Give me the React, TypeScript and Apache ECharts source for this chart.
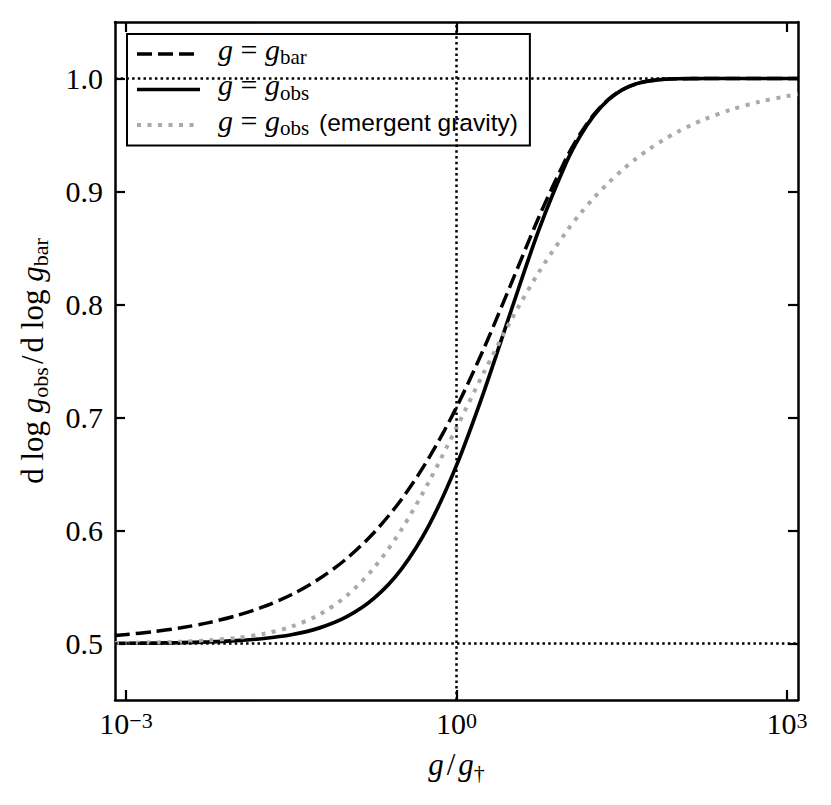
import React, { useEffect, useRef } from "react";
import * as echarts from "echarts";

// log10(g / g_dagger)
const logG = [
  -3.1, -3, -2.75, -2.5, -2.25, -2, -1.75, -1.5, -1.25, -1, -0.75, -0.5, -0.25, 0, 0.25, 0.5, 0.75, 1,
  1.125, 1.25, 1.375, 1.5, 1.625, 1.75, 1.875, 2, 2.125, 2.25, 2.5, 2.75, 3, 3.1,
];
// g = g_bar (dashed)
const slopeBar = [
  0.507, 0.5079, 0.5105, 0.5139, 0.5185, 0.5246, 0.5326, 0.5431, 0.557, 0.5749, 0.598, 0.6275, 0.6643, 0.709,
  0.7614, 0.8193, 0.8779, 0.9301, 0.9514, 0.9685, 0.9812, 0.9898, 0.9951, 0.9979, 0.9993, 0.9998, 0.9999, 1.0,
  1.0, 1.0, 1.0, 1.0,
];
// g = g_obs (solid)
const slopeObs = [
  0.5002, 0.5002, 0.5004, 0.5008, 0.5014, 0.5025, 0.5044, 0.5077, 0.5136, 0.5235, 0.5399, 0.5659, 0.6046,
  0.6576, 0.7232, 0.7958, 0.8667, 0.9263, 0.9495, 0.9677, 0.9809, 0.9897, 0.9951, 0.9979, 0.9993, 0.9998,
  0.9999, 1.0, 1.0, 1.0, 1.0, 1.0,
];
// g = g_obs, emergent gravity (grey dotted)
const slopeEG = [
  0.5004, 0.5005, 0.5009, 0.5016, 0.5028, 0.5049, 0.5086, 0.5149, 0.5253, 0.542, 0.5668, 0.6008, 0.6432,
  0.691, 0.7402, 0.787, 0.829, 0.8649, 0.8806, 0.8947, 0.9073, 0.9186, 0.9287, 0.9376, 0.9455, 0.9524, 0.9585,
  0.9639, 0.9727, 0.9794, 0.9844, 0.9861,
];

const xTicks = [-3, 0, 3];
const yTicks = [0.5, 0.6, 0.7, 0.8, 0.9, 1.0];
const refY = [0.5, 1.0];
const refX = [0];
const seriesNames = ["g = g_bar", "g = g_obs", "g = g_obs (emergent gravity)"];

const SERIF = "Liberation Serif";
const SANS = "Liberation Sans";

export default function App() {
  const ref = useRef<HTMLDivElement>(null);

  useEffect(() => {
    document.body.style.margin = "0";
    const chart = echarts.init(ref.current as HTMLDivElement, null, { renderer: "svg" });
    const pair = (ys: number[]) => logG.map((x, i) => [x, ys[i]]);

    const n = { fontFamily: SERIF, fontSize: 30, lineHeight: 34, color: "#000" };
    const it = { fontFamily: SERIF, fontStyle: "italic", fontSize: 30, lineHeight: 34, color: "#000" };
    const sub = { fontFamily: SERIF, fontSize: 21, lineHeight: 18, height: 18, verticalAlign: "bottom", color: "#000" };
    const sup = { fontFamily: SERIF, fontSize: 22, lineHeight: 29, height: 29, verticalAlign: "top", color: "#000" };
    const sl = { ...n, padding: [0, 3, 0, 3] };

    // legend tokens: top-aligned so the text sits ~5px above the icon line
    const lTop = { verticalAlign: "top", height: 24 };
    const legendFmt = (name: string) => {
      if (name === seriesNames[0]) return "{i0|g}{n| = }{i|g}{sub|bar}";
      if (name === seriesNames[1]) return "{i0|g}{n| = }{i|g}{sub|obs}";
      return "{i0|g}{n| = }{i|g}{sub|obs}{sans|(emergent gravity)}";
    };

    const axisLineStyle = { color: "#000", width: 2.5 };
    const tickStyle = { color: "#000", width: 2.2 };

    chart.setOption({
      animation: false,
      backgroundColor: "#fff",
      grid: { left: 115, top: 22, right: 33, bottom: 105, containLabel: false, outerBoundsMode: "none" },
      legend: {
        show: true,
        orient: "vertical",
        left: 127,
        top: 34,
        itemWidth: 63,
        itemHeight: 14,
        itemGap: -1.5,
        padding: [0, 12, 3.5, 8],
        borderColor: "#000",
        borderWidth: 2,
        borderRadius: 0,
        backgroundColor: "#fff",
        selectedMode: false,
        data: seriesNames,
        formatter: legendFmt,
        itemStyle: { opacity: 0, color: "rgba(0,0,0,0)", borderWidth: 0 },
        lineStyle: { width: "inherit" },
        textStyle: {
          rich: {
            i0: { ...it, ...lTop, padding: [0, 0, 0, 13] },
            i: { ...it, ...lTop },
            n: { ...n, ...lTop },
            sub: { ...sub, verticalAlign: "bottom", height: 28 },
            sans: {
              fontFamily: SANS,
              fontSize: 24.5,
              lineHeight: 30,
              height: 28,
              verticalAlign: "top",
              color: "#000",
              padding: [0, 0, 0, 10],
            },
          },
        },
      },
      xAxis: [
        {
          type: "value",
          position: "bottom",
          min: -3.1,
          max: 3.1,
          name: "{i|g}{sl|/}{i|g}{sub|†}",
          nameLocation: "middle",
          nameGap: 47,
          nameMoveOverlap: false,
          nameTextStyle: {
            rich: { i: { ...it, fontSize: 31 }, sl: { ...sl, fontSize: 31 }, sub: { ...sub, fontSize: 22 } },
          },
          axisLine: { show: true, onZero: false, lineStyle: axisLineStyle },
          axisTick: { show: true, inside: true, length: 10, lineStyle: tickStyle, customValues: xTicks },
          axisLabel: {
            show: true,
            margin: 6,
            customValues: xTicks,
            formatter: (v: number) => `{n|10}{sup|${v < 0 ? "−" + Math.abs(v) : v}}`,
            rich: { n, sup },
          },
          splitLine: { show: false },
        },
        {
          type: "value",
          position: "top",
          min: -3.1,
          max: 3.1,
          axisLine: { show: true, onZero: false, lineStyle: axisLineStyle },
          axisTick: { show: true, inside: true, length: 10, lineStyle: tickStyle, customValues: xTicks },
          axisLabel: { show: false },
          splitLine: { show: false },
        },
      ],
      yAxis: [
        {
          type: "value",
          position: "left",
          min: 0.45,
          max: 1.05,
          name: "{n|d log }{i|g}{sub|obs}{sl|/}{n|d log }{i|g}{sub|bar}",
          nameLocation: "middle",
          nameRotate: 90,
          nameGap: 66,
          nameMoveOverlap: false,
          nameTextStyle: {
            rich: {
              n: { ...n, fontSize: 31 },
              i: { ...it, fontSize: 31 },
              sl: { ...sl, fontSize: 31 },
              sub: { ...sub, fontSize: 22 },
            },
          },
          axisLine: { show: true, onZero: false, lineStyle: axisLineStyle },
          axisTick: { show: true, inside: true, length: 10, lineStyle: tickStyle, customValues: yTicks },
          axisLabel: {
            show: true,
            margin: 12,
            customValues: yTicks,
            formatter: (v: number) => v.toFixed(1),
            fontFamily: SERIF,
            fontSize: 30,
            color: "#000",
            padding: [5, 0, 0, 0],
          },
          splitLine: { show: false },
        },
        {
          type: "value",
          position: "right",
          min: 0.45,
          max: 1.05,
          axisLine: { show: true, onZero: false, lineStyle: axisLineStyle },
          axisTick: { show: true, inside: true, length: 10, lineStyle: tickStyle, customValues: yTicks },
          axisLabel: { show: false },
          splitLine: { show: false },
        },
      ],
      series: [
        {
          type: "line",
          name: seriesNames[0],
          data: pair(slopeBar),
          symbol: "none",
          showSymbol: false,
          smooth: 0.3,
          color: "#000",
          lineStyle: { color: "#000", width: 3.5, type: [15, 6], cap: "butt" },
          emphasis: { disabled: true },
          z: 3,
          markLine: {
            silent: true,
            symbol: ["none", "none"],
            label: { show: false },
            emphasis: { disabled: true },
            lineStyle: { color: "#000", width: 2.5, type: [2.5, 3.2], cap: "butt" },
            data: [...refY.map((y) => ({ yAxis: y })), ...refX.map((x) => ({ xAxis: x }))],
          },
        },
        {
          type: "line",
          name: seriesNames[1],
          data: pair(slopeObs),
          symbol: "none",
          showSymbol: false,
          smooth: 0.3,
          color: "#000",
          lineStyle: { color: "#000", width: 3.7, type: "solid" },
          emphasis: { disabled: true },
          z: 3,
        },
        {
          type: "line",
          name: seriesNames[2],
          data: pair(slopeEG),
          symbol: "none",
          showSymbol: false,
          smooth: 0.3,
          color: "#aaaaaa",
          lineStyle: { color: "#aaaaaa", width: 4, type: [4, 6.5], cap: "butt" },
          emphasis: { disabled: true },
          z: 3,
        },
      ],
    });

    return () => chart.dispose();
  }, []);

  return <div ref={ref} style={{ width: 831, height: 805, position: "absolute", left: 0, top: 0 }} />;
}
